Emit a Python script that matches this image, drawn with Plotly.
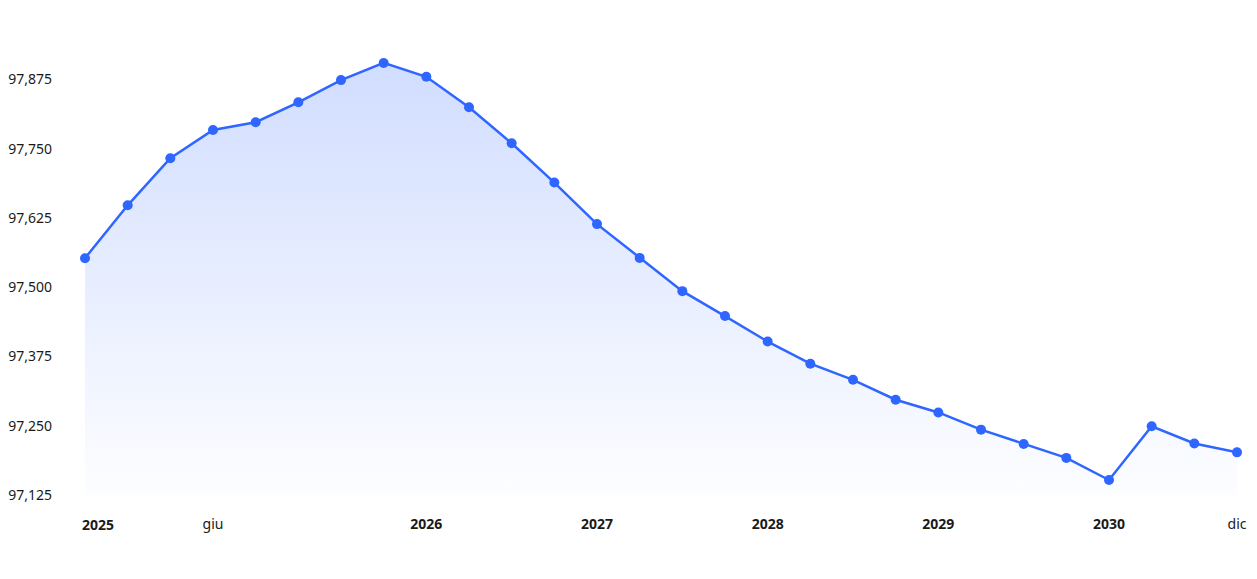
import plotly.graph_objects as go

values = [97.5525, 97.648, 97.733, 97.784, 97.798, 97.834, 97.874, 97.905,
          97.880, 97.825, 97.760, 97.689, 97.614, 97.553, 97.493, 97.448,
          97.402, 97.362, 97.333, 97.297, 97.274, 97.243, 97.217, 97.192,
          97.152, 97.249, 97.218, 97.202]
idx = list(range(len(values)))

tick_pos = [3, 8, 12, 16, 20, 24, 27]
tick_text = ["giu", "<b>2026</b>", "<b>2027</b>", "<b>2028</b>", "<b>2029</b>", "<b>2030</b>", "dic"]
first_label = "<b>2025</b>"

y_ticks = [97.125, 97.25, 97.375, 97.5, 97.625, 97.75, 97.875]
y_text = [f"{v:.3f}".replace(".", ",") for v in y_ticks]

line_color = "#2e66ff"
font_family = "Noto Sans"
text_color = "#1a1a1a"

fig = go.Figure()
fig.add_trace(go.Scatter(
    x=idx, y=values, mode="lines+markers",
    line=dict(color=line_color, width=2.5),
    marker=dict(color=line_color, size=10),
    fill="tozeroy",
    fillgradient=dict(
        type="vertical",
        start=97.125, stop=97.905,
        colorscale=[[0, "rgba(47,102,255,0.01)"], [1, "rgba(47,102,255,0.22)"]],
    ),
    cliponaxis=False,
    hoverinfo="skip",
))

fig.update_layout(
    width=1257, height=579,
    margin=dict(l=85, r=20, t=38, b=84, autoexpand=False),
    paper_bgcolor="white", plot_bgcolor="white",
    showlegend=False,
    font=dict(family=font_family, size=14, color=text_color),
    xaxis=dict(
        range=[0, 27], showgrid=False, zeroline=False, showline=False,
        tickmode="array", tickvals=tick_pos, ticktext=tick_text,
        ticks="", ticklabelstandoff=19, automargin=False,
    ),
    yaxis=dict(
        range=[97.125, 97.95], showgrid=False, zeroline=False, showline=False,
        tickmode="array", tickvals=y_ticks, ticktext=y_text,
        ticks="", ticklabelstandoff=32, automargin=False,
    ),
    annotations=[dict(
        x=idx[0], y=0, xref="x", yref="paper", text=first_label,
        showarrow=False, xanchor="left", yanchor="top", xshift=-5, yshift=-18,
        font=dict(family=font_family, size=14, color=text_color),
    )],
)

fig.write_html("out.html")
